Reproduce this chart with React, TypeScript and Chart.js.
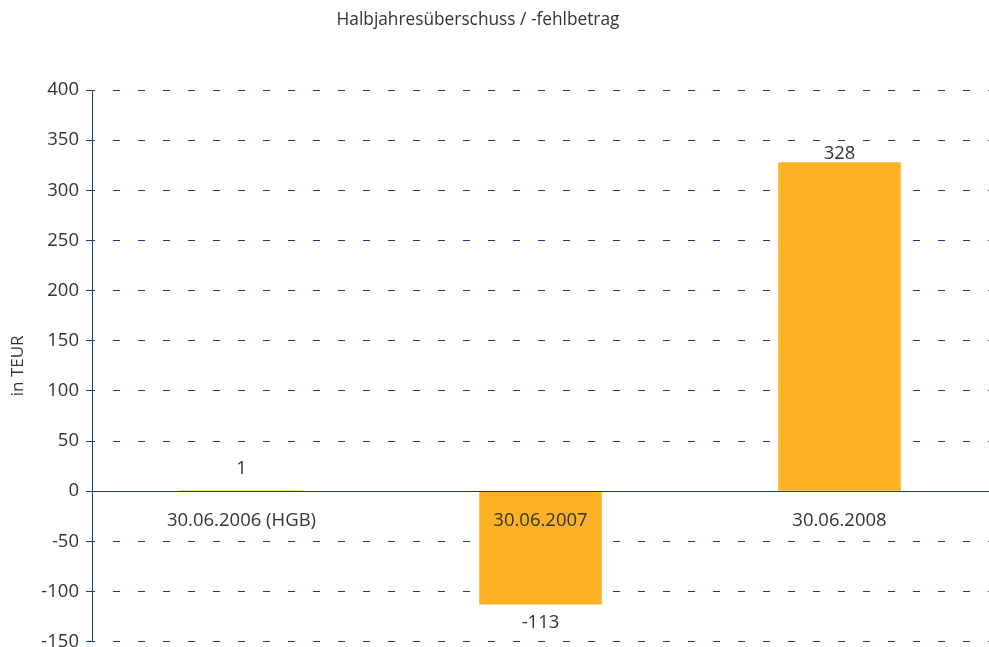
import React, { useEffect, useRef } from "react";
import { Chart, registerables } from "chart.js";

Chart.register(...registerables);

const TITLE = "Halbjahresüberschuss / -fehlbetrag";
const Y_TITLE = "in TEUR";
const categories = ["30.06.2006 (HGB)", "30.06.2007", "30.06.2008"];
const values = [1, -113, 328];
const yMin = -150;
const yMax = 400;
const yStep = 50;

const NAVY = "#203c78";
const TEXT = "#333333";
const BAR = "#fdb124";
const FONT = "'Open Sans', 'Noto Sans', sans-serif";

const labelPlugin = {
  id: "valueLabels",
  afterDatasetsDraw(chart: any) {
    const ctx = chart.ctx;
    const meta = chart.getDatasetMeta(0);
    const yScale = chart.scales.y;
    const base = yScale.getPixelForValue(0);
    ctx.save();
    ctx.font = `18.5px ${FONT}`;
    ctx.fillStyle = TEXT;
    ctx.textAlign = "center";
    meta.data.forEach((el: any, i: number) => {
      const v = values[i];
      if (v >= 0) {
        ctx.textBaseline = "bottom";
        ctx.fillText(String(v), el.x, Math.min(el.y + 1, base - 13));
      } else {
        ctx.textBaseline = "top";
        ctx.fillText(String(v), el.x, el.y + 9);
      }
    });
    ctx.restore();
  },
};

const titlePlugin = {
  id: "topTitle",
  afterDraw(chart: any) {
    const ctx = chart.ctx;
    ctx.save();
    ctx.font = `17.3px ${FONT}`;
    ctx.fillStyle = TEXT;
    ctx.textAlign = "center";
    ctx.textBaseline = "middle";
    ctx.fillText(TITLE, 478, 20);
    ctx.restore();
  },
};

export default function App() {
  const ref = useRef<HTMLCanvasElement | null>(null);
  useEffect(() => {
    if (!ref.current) return;
    const chart = new Chart(ref.current, {
      type: "bar",
      data: {
        labels: categories,
        datasets: [
          {
            data: values,
            backgroundColor: BAR,
            borderWidth: 0,
            barPercentage: 0.41,
            categoryPercentage: 1,
          },
        ],
      },
      plugins: [labelPlugin, titlePlugin],
      options: {
        responsive: false,
        animation: false,
        maintainAspectRatio: false,
        layout: { padding: { top: 90, bottom: 0, right: 0, left: 0 } },
        plugins: {
          legend: { display: false },
          title: { display: false },
          tooltip: { enabled: false },
        },
        scales: {
          x: {
            position: { y: 0 } as any,
            grid: { display: false, drawTicks: false },
            border: { display: true, color: NAVY, width: 1, z: 1 },
            ticks: {
              color: TEXT,
              font: { size: 18.5, family: FONT },
              padding: 18,
              maxRotation: 0,
              autoSkip: false,
              z: 2,
            },
          },
          y: {
            min: yMin,
            max: yMax,
            afterFit(scale: any) {
              scale.width = 92;
            },
            ticks: {
              stepSize: yStep,
              color: TEXT,
              font: { size: 18.5, family: FONT, lineHeight: 0.8 },
              padding: 7,
            },
            grid: {
              color: NAVY,
              lineWidth: 1,
              tickLength: 6,
              tickColor: NAVY,
              tickBorderDash: [],
            },
            border: {
              display: true,
              color: NAVY,
              width: 1,
              dash: [7, 18],
              dashOffset: 5,
            },
            title: {
              display: true,
              text: Y_TITLE,
              color: TEXT,
              font: { size: 17, family: FONT },
              padding: { top: 8, bottom: 0 },
            },
          },
        },
      },
    });
    return () => chart.destroy();
  }, []);
  return (
    <div style={{ position: "fixed", left: 0, top: 0, width: 989, height: 647, background: "#fff", overflow: "hidden" }}>
      <canvas ref={ref} width={989} height={656} style={{ width: 989, height: 656 }} />
    </div>
  );
}
